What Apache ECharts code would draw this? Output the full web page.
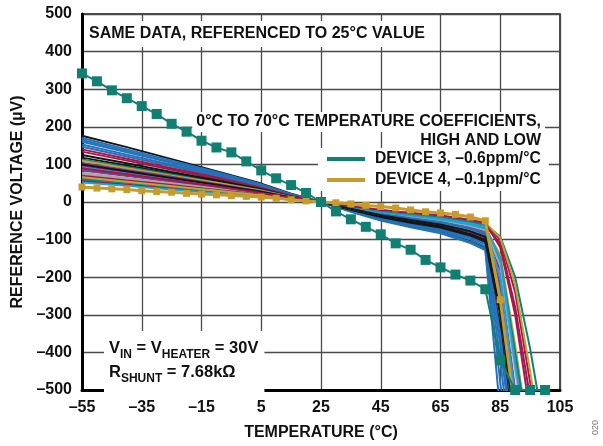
<!DOCTYPE html>
<html>
<head>
<meta charset="utf-8">
<script src="https://cdn.jsdelivr.net/npm/echarts@6/dist/echarts.min.js"></script>
<style>
html,body{margin:0;padding:0;background:#fff;}
#chart{width:603px;height:446px;}
</style>
</head>
<body>
<div id="chart"></div>
<script>
// ---- tick labels ----
const xTicks = [-55, -35, -15, 5, 25, 45, 65, 85, 105];
const yTicks = [-500, -400, -300, -200, -100, 0, 100, 200, 300, 400, 500];

// ---- highlighted devices (every 5 °C) ----
const devTemps = [-55,-50,-45,-40,-35,-30,-25,-20,-15,-10,-5,0,5,10,15,20,25,30,35,40,45,50,55,60,65,70,75,80,85,90,95,100];
const device3 = [342,321,297,276,255,234,208,187,163,145,132,108,84,63,45,24,0,-25,-46,-66,-86,-110,-127,-154,-174,-193,-209,-232,-421,-500,-500,-500];
const device4 = [40,37,35,33,30,28,26,23,21,19,17,15,13,10,6,3,0,-2,-5,-9,-12,-16,-21,-26,-29,-33,-40,-50,-260,-560];

// ---- other units (shared temperature grid) ----
const unitTemps = [-55,-40,-25,-10,5,15,25,35,45,55,65,75,80,85,90,95,100];
const unitColors = [
  'black','blue','blue','blue','blue','blue','crimson','crimson','black','black',
  'teal','gold','purple','purple','lightblue','teal','purple','gray','gray','crimson',
  'blue','lightblue','crimson','lightblue','teal','gold','black','crimson'
];
const unitValues = [
  [176,146,114,82,49,22,0,-24,-46,-63,-78,-102,-120,-330,-650],
  [170,140,110,80,47,21,0,-26,-49,-67,-83,-109,-128,-560],
  [165,136,106,77,45,20,0,-25,-47,-65,-81,-106,-125,-480,-800],
  [160,132,104,75,44,19,0,-24,-45,-62,-77,-100,-118,-420,-760],
  [153,126,99,72,42,18,0,-23,-43,-58,-73,-95,-112,-380,-700],
  [147,121,95,68,40,18,0,-22,-41,-56,-70,-92,-108,-350,-680],
  [140,115,90,65,38,17,0,-19,-36,-49,-62,-80,-95,-250,-540],
  [134,110,86,62,36,16,0,-18,-34,-46,-57,-75,-88,-180,-420,-640],
  [125,103,80,58,34,15,0,-20,-38,-52,-65,-85,-100,-260,-560],
  [118,97,76,55,32,14,0,-21,-40,-55,-68,-89,-105,-300,-600],
  [113,93,73,52,31,14,0,-16,-30,-42,-52,-68,-80,-160,-400,-640],
  [110,90,70,51,30,13,0,-14,-27,-36,-46,-60,-70,-140,-380,-650],
  [104,85,67,48,28,12,0,-17,-32,-44,-55,-72,-85,-220,-520],
  [96,79,61,44,26,12,0,-16,-30,-42,-52,-68,-80,-200,-500,-700],
  [92,75,59,42,25,11,0,-18,-34,-47,-58,-76,-90,-240,-540],
  [88,72,56,40,24,11,0,-14,-27,-37,-47,-61,-72,-150,-400,-650],
  [84,69,54,39,23,10,0,-16,-30,-41,-51,-66,-78,-230,-560],
  [78,64,50,36,21,9,0,-14,-26,-35,-44,-58,-68,-170,-450,-700],
  [74,61,47,34,20,9,0,-15,-28,-39,-49,-64,-75,-260,-600],
  [70,57,45,32,19,8,0,-12,-24,-32,-40,-53,-62,-110,-280,-520],
  [65,53,42,30,18,8,0,-16,-31,-43,-53,-70,-82,-280,-620],
  [60,49,38,28,16,7,0,-14,-27,-36,-46,-60,-70,-200,-520],
  [56,46,36,26,15,7,0,-12,-22,-30,-38,-49,-58,-100,-240,-480,-700],
  [52,43,33,24,14,6,0,-13,-25,-34,-42,-55,-65,-150,-430,-680],
  [62,51,40,29,17,8,0,-12,-23,-31,-39,-51,-60,-92,-200,-390,-620],
  [66,54,42,30,18,8,0,-11,-21,-29,-36,-47,-55,-95,-220,-450,-700],
  [100,82,64,46,27,12,0,-18,-35,-48,-60,-78,-92,-290,-600],
  [90,74,58,41,24,11,0,-11,-21,-29,-36,-48,-56,-120,-300,-560]
];

const dev3Name = 'DEVICE 3, \u20130.6ppm/\u00B0C';
const dev4Name = 'DEVICE 4, \u20130.1ppm/\u00B0C';

const palette = {
  black: '#161616', blue: '#2372ba', crimson: '#a3174f', teal: '#0a8578',
  gold: '#c9a02f', purple: '#7a3c90', gray: '#a6a6a6', lightblue: '#1aa3d9'
};

const FONT = 'Liberation Sans, Arial, Helvetica, sans-serif';
const dash = v => String(v).replace('-', '\u2013');

const series = [];
unitValues.forEach((vals, k) => {
  series.push({
    name: 'unit ' + (k + 1),
    type: 'line',
    data: vals.map((v, i) => [unitTemps[i], v]),
    showSymbol: false,
    symbol: 'none',
    lineStyle: { color: palette[unitColors[k]], width: 2 },
    itemStyle: { color: palette[unitColors[k]] },
    z: 2,
    silent: true,
    animation: false
  });
});
series.push({
  name: dev4Name,
  type: 'line',
  data: device4.map((v, i) => [devTemps[i], v]),
  symbol: 'rect',
  symbolSize: 7,
  lineStyle: { color: '#c89c2c', width: 3 },
  itemStyle: { color: '#c89c2c' },
  z: 4,
  animation: false
});
series.push({
  name: dev3Name,
  type: 'line',
  data: device3.map((v, i) => [devTemps[i], v]),
  symbol: 'rect',
  symbolSize: 10,
  lineStyle: { color: '#117f72', width: 2 },
  itemStyle: { color: '#117f72' },
  z: 5,
  animation: false
});

const chart = echarts.init(document.getElementById('chart'), null, { renderer: 'canvas' });
chart.setOption({
  backgroundColor: '#fff',
  animation: false,
  grid: { left: 82, right: 43, top: 14, bottom: 52, show: true, borderColor: '#111', borderWidth: 1.5, backgroundColor: 'transparent' },
  xAxis: {
    type: 'value', min: xTicks[0], max: xTicks[xTicks.length - 1], interval: 20,
    name: 'TEMPERATURE (\u00B0C)', nameLocation: 'middle', nameGap: 35,
    nameTextStyle: { fontFamily: FONT, fontWeight: 'bold', fontSize: 16, color: '#111' },
    axisLine: { show: true, onZero: false, lineStyle: { color: '#000', width: 3 } },
    axisTick: { show: false },
    axisLabel: { formatter: dash, fontFamily: FONT, fontWeight: 'bold', fontSize: 16, color: '#111', margin: 10 },
    splitLine: { show: true, lineStyle: { color: '#4a4a4a', width: 1.3 } }
  },
  yAxis: {
    type: 'value', min: yTicks[0], max: yTicks[yTicks.length - 1], interval: 100,
    name: 'REFERENCE VOLTAGE (\u00B5V)', nameLocation: 'middle', nameGap: 53, nameRotate: 90,
    nameTextStyle: { fontFamily: FONT, fontWeight: 'bold', fontSize: 16, color: '#111' },
    axisLine: { show: true, onZero: false, lineStyle: { color: '#000', width: 3 } },
    axisTick: { show: false },
    axisLabel: { formatter: dash, fontFamily: FONT, fontWeight: 'bold', fontSize: 16, color: '#111', margin: 10 },
    splitLine: { show: true, lineStyle: { color: '#4a4a4a', width: 1.3 } }
  },
  legend: {
    data: [dev3Name, dev4Name],
    orient: 'vertical',
    left: 318, top: 148,
    padding: [3, 8, 3, 9],
    itemGap: 5,
    itemWidth: 38, itemHeight: 4,
    icon: 'rect',
    backgroundColor: '#fff',
    selectedMode: false,
    textStyle: { fontFamily: FONT, fontWeight: 'bold', fontSize: 15.7, color: '#111', padding: [0, 0, 0, 5] },
    z: 10
  },
  graphic: [
    {
      type: 'text', left: 84, top: 21, z: 1,
      style: {
        text: 'SAME DATA, REFERENCED TO 25\u00B0C VALUE',
        font: 'bold 16px ' + FONT, fill: '#111',
        backgroundColor: '#fff', padding: [5, 5, 5, 5]
      }
    },
    {
      type: 'text', x: 545, y: 112, z: 1,
      style: {
        text: '0\u00B0C TO 70\u00B0C TEMPERATURE COEFFICIENTS,',
        font: 'bold 16px ' + FONT, fill: '#111', align: 'right', verticalAlign: 'top',
        backgroundColor: '#fff', padding: [2, 4, 2, 4]
      }
    },
    {
      type: 'text', x: 545, y: 131, z: 1,
      style: {
        text: 'HIGH AND LOW',
        font: 'bold 16px ' + FONT, fill: '#111', align: 'right', verticalAlign: 'top',
        backgroundColor: '#fff', padding: [2, 4, 2, 4]
      }
    },
    {
      type: 'text', left: 104, top: 331, z: 1,
      style: {
        text: '{m|V}{s|IN}{m| = V}{s|HEATER}{m| = 30V}\n{m|R}{s|SHUNT}{m| = 7.68k\u03A9}',
        fill: '#111',
        backgroundColor: '#fff', padding: [6, 6, 10, 5],
        rich: {
          m: { fontFamily: FONT, fontWeight: 'bold', fontSize: 16.5, lineHeight: 24, fill: '#111', verticalAlign: 'bottom', padding: [0, 0, 4, 0] },
          s: { fontFamily: FONT, fontWeight: 'bold', fontSize: 12, lineHeight: 24, fill: '#111', verticalAlign: 'bottom', padding: [0, 0, 0, 0] }
        }
      }
    },
    {
      type: 'text', left: 591, top: 420, rotation: Math.PI / 2, z: 1,
      style: { text: '020', font: '9px ' + FONT, fill: '#777' }
    }
  ],
  series: series
});
</script>
</body>
</html>
